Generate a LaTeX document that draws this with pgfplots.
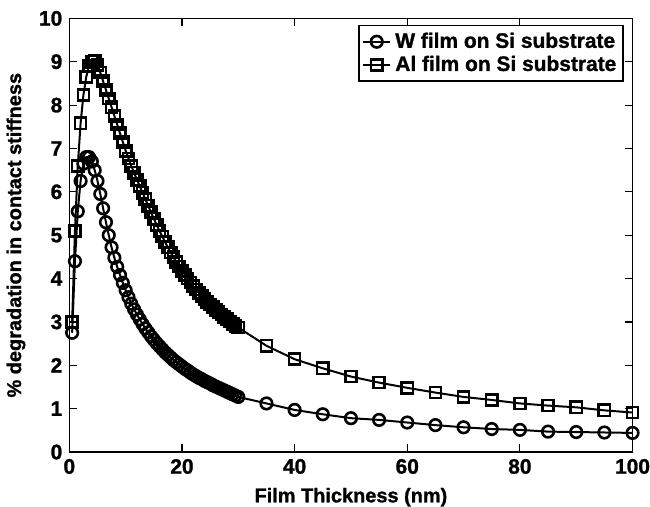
\documentclass[border=0pt]{standalone}
\usepackage{pgfplots}
\pgfplotsset{compat=1.18}
\usepackage{fontspec}
\setmainfont{Liberation Sans}[BoldFeatures={FakeBold=1.2}]

% W film on Si substrate
\pgfplotstableread{
x y
0.5 2.75
1 4.40
1.5 5.55
2 6.25
2.5 6.65
3 6.80
3.5 6.80
4 6.70
4.5 6.50
5 6.25
5.5 5.95
6 5.62
6.5 5.30
7 5.00
7.5 4.72
8 4.48
8.5 4.27
9 4.08
9.5 3.90
10 3.73
10.5 3.57
11 3.42
11.5 3.29
12 3.17
12.5 3.06
13 2.95
13.5 2.85
14 2.76
14.5 2.67
15 2.59
15.5 2.51
16 2.44
16.5 2.37
17 2.30
17.5 2.24
18 2.18
18.5 2.12
19 2.07
19.5 2.02
20 1.97
20.5 1.92
21 1.88
21.5 1.83
22 1.79
22.5 1.75
23 1.71
23.5 1.68
24 1.64
24.5 1.61
25 1.58
25.5 1.54
26 1.51
26.5 1.48
27 1.45
27.5 1.42
28 1.39
28.5 1.36
29 1.33
29.5 1.30
30 1.27
35 1.12
40 0.97
45 0.87
50 0.78
55 0.74
60 0.68
65 0.62
70 0.57
75 0.53
80 0.51
85 0.47
90 0.46
95 0.45
100 0.44
}\wfilm

% Al film on Si substrate
\pgfplotstableread{
x y
0.5 3.00
1 5.10
1.5 6.60
2 7.58
2.5 8.23
3 8.65
3.5 8.90
4 9.00
4.5 9.02
5 8.92
5.5 8.75
6 8.55
6.5 8.35
7 8.15
7.5 7.95
8 7.75
8.5 7.55
9 7.35
9.5 7.15
10 6.95
10.5 6.77
11 6.60
11.5 6.44
12 6.28
12.5 6.13
13 5.98
13.5 5.83
14 5.68
14.5 5.53
15 5.38
15.5 5.24
16 5.10
16.5 4.97
17 4.84
17.5 4.72
18 4.60
18.5 4.49
19 4.38
19.5 4.28
20 4.18
20.5 4.09
21 4.00
21.5 3.91
22 3.83
22.5 3.75
23 3.67
23.5 3.60
24 3.53
24.5 3.46
25 3.40
25.5 3.34
26 3.28
26.5 3.22
27 3.17
27.5 3.11
28 3.06
28.5 3.01
29 2.96
29.5 2.91
30 2.87
35 2.45
40 2.14
45 1.93
50 1.74
55 1.60
60 1.48
65 1.37
70 1.27
75 1.20
80 1.12
85 1.07
90 1.03
95 0.96
100 0.91
}\alfilm

\begin{document}
\begin{tikzpicture}
\begin{axis}[
    width=282.5pt, height=217.5pt,
    scale only axis,
    xmin=0, xmax=100, ymin=0, ymax=10,
    xtick={0,20,...,100},
    ytick={0,1,...,10},
    tick align=inside,
    major tick length=4pt,
    axis line style={line width=0.8pt},
    tick style={line width=0.6pt, black},
    font=\bfseries\fontsize{10}{12}\selectfont,
    ticklabel style={font=\bfseries\fontsize{10.5}{12}\selectfont},
    xticklabel style={inner xsep=0pt},
    yticklabel style={inner ysep=5.5pt},
    /pgf/number format/assume math mode=true,
    xlabel={Film Thickness (nm)},
    ylabel={\% degradation in contact stiffness},
    xlabel style={inner sep=0pt, yshift=-3.5pt},
    ylabel style={yshift=0pt},
    legend style={at={(0.985,0.985)}, anchor=north east,
        draw=black, line width=0.8pt,
        font=\bfseries\fontsize{10.5}{12}\selectfont,
        inner sep=1.5pt, row sep=-1.5pt},
    legend cell align=left,
    legend image code/.code={
        \draw[#1, mark repeat=2, mark phase=2]
        plot coordinates {(0cm,0cm) (0.24cm,0cm) (0.48cm,0cm)};},
]
\addplot[black, line width=1pt, mark=o, mark size=2.9pt,
    mark options={line width=1.3pt}] table {\wfilm};
\addplot[black, line width=1pt, mark=square, mark size=2.8pt,
    mark options={line width=1.3pt}] table {\alfilm};
\legend{W film on Si substrate, Al film on Si substrate}
\end{axis}
\end{tikzpicture}
\end{document}
